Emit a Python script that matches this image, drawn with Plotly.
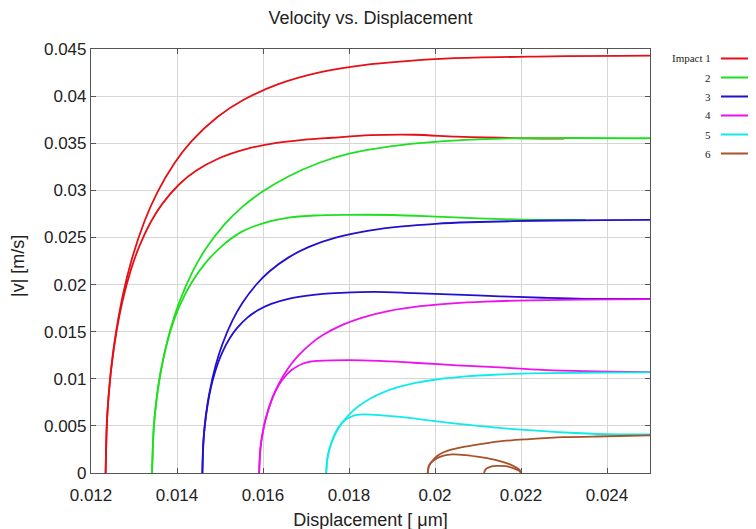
import plotly.graph_objects as go

# ---------------- data ----------------
# Impact 1 (red)
imp1_a_x = [0.01234, 0.01238, 0.01244, 0.01254, 0.01274, 0.01294, 0.01324, 0.01354, 0.01394, 0.01434,
            0.01494, 0.01554, 0.01634, 0.01734, 0.01834, 0.01934, 0.02034, 0.02234, 0.02434, 0.02500]
imp1_a_v = [0.0, 0.00623, 0.00979, 0.01367, 0.01886, 0.02255, 0.02667, 0.02976, 0.03288, 0.03522,
            0.03778, 0.03958, 0.04125, 0.04255, 0.04330, 0.04372, 0.04400, 0.04420, 0.04428, 0.04430]
imp1_b_x = [0.01234, 0.012366, 0.012406, 0.012471, 0.012603, 0.012734, 0.012931, 0.013128, 0.013390,
            0.013653, 0.014047, 0.014441, 0.014966, 0.015623, 0.016279, 0.016936, 0.01760, 0.01850,
            0.01950, 0.02050, 0.02150, 0.02250, 0.02300]
imp1_b_v = [0.0, 0.00505, 0.00793, 0.01108, 0.01529, 0.01828, 0.02161, 0.02411, 0.02664,
            0.02854, 0.03062, 0.03207, 0.03338, 0.03440, 0.03500, 0.03535, 0.03558, 0.03585,
            0.03590, 0.03570, 0.03558, 0.03550, 0.03550]

# Impact 2 (green)
imp2_a_x = [0.01342, 0.013462, 0.013525, 0.01363, 0.01384, 0.01405, 0.014365, 0.01468, 0.01510, 0.01552,
            0.01600, 0.01660, 0.01730, 0.01800, 0.01900, 0.02000, 0.02100, 0.02200, 0.02500]
imp2_a_v = [0.0, 0.00500, 0.00785, 0.01096, 0.01513, 0.01809, 0.02139, 0.02387, 0.02637, 0.02825,
            0.02990, 0.03150, 0.03290, 0.03390, 0.03470, 0.03515, 0.03540, 0.03553, 0.03553]
imp2_b_x = [0.01342, 0.013462, 0.013525, 0.01363, 0.01384, 0.01405, 0.01433, 0.01465, 0.01505, 0.01550,
            0.01600, 0.01660, 0.01720, 0.01800, 0.01900, 0.02000, 0.02100, 0.02200, 0.02300, 0.02350]
imp2_b_v = [0.0, 0.00500, 0.00785, 0.01096, 0.01500, 0.01762, 0.02013, 0.02222, 0.02411, 0.02559,
            0.02650, 0.02710, 0.02733, 0.02740, 0.02738, 0.02722, 0.02703, 0.02690, 0.02686, 0.02686]

# Impact 3 (blue)
imp3_a_x = [0.01459, 0.014621, 0.014668, 0.014745, 0.01490, 0.015055, 0.015288, 0.01552, 0.01583, 0.01614,
            0.016605, 0.01707, 0.01769, 0.018465, 0.01924, 0.020015, 0.02079, 0.02234, 0.02389, 0.02500]
imp3_a_v = [0.0, 0.00378, 0.00593, 0.00829, 0.01144, 0.01367, 0.01617, 0.01804, 0.01993, 0.02136,
            0.02291, 0.02400, 0.02498, 0.02573, 0.02618, 0.02645, 0.02661, 0.02677, 0.02683, 0.02686]
imp3_b_x = [0.01459, 0.014606, 0.01463, 0.01467, 0.01475, 0.01483, 0.01495, 0.01507, 0.01523, 0.01539,
            0.01563, 0.01587, 0.01619, 0.01659, 0.01699, 0.01739, 0.01779, 0.01859, 0.01950, 0.02050,
            0.02150, 0.02250, 0.02350, 0.02500]
imp3_b_v = [0.0, 0.00272, 0.00426, 0.00595, 0.00822, 0.00983, 0.01162, 0.01296, 0.01432, 0.01535,
            0.01646, 0.01724, 0.01795, 0.01849, 0.01881, 0.01901, 0.01912, 0.01923, 0.01910, 0.01893,
            0.01875, 0.01860, 0.01849, 0.01847]

# Impact 4 (magenta)
imp4_a_x = [0.01591, 0.01594, 0.015985, 0.01606, 0.01621, 0.01636, 0.016585, 0.01681, 0.01711, 0.01741,
            0.01786, 0.01831, 0.01891, 0.01966, 0.02041, 0.02116, 0.02191, 0.02341, 0.02500]
imp4_a_v = [0.0, 0.00260, 0.00408, 0.00570, 0.00786, 0.00940, 0.01112, 0.01241, 0.01371, 0.01469,
            0.01575, 0.01650, 0.01718, 0.01770, 0.01800, 0.01819, 0.01830, 0.01841, 0.01845]
imp4_b_x = [0.01591, 0.01594, 0.015985, 0.01606, 0.01621, 0.016326, 0.016442, 0.016558, 0.016674,
            0.01679, 0.016907, 0.017023, 0.017139, 0.017256, 0.01800, 0.01870, 0.01950, 0.02050,
            0.02150, 0.02250, 0.02350, 0.02500]
imp4_b_v = [0.0, 0.00260, 0.00408, 0.00570, 0.00786, 0.00899, 0.00984, 0.01048, 0.01096,
            0.01131, 0.01157, 0.01174, 0.01184, 0.01189, 0.01198, 0.01190, 0.01170, 0.01143,
            0.01120, 0.01095, 0.01080, 0.01070]

# Impact 5 (cyan)
imp5_a_x = [0.01747, 0.017496, 0.017535, 0.01760, 0.01773, 0.01786, 0.018055, 0.01825, 0.01851, 0.01877,
            0.01916, 0.01955, 0.02007, 0.02072, 0.02137, 0.02202, 0.02267, 0.02397, 0.02500]
imp5_a_v = [0.0, 0.00151, 0.00236, 0.00330, 0.00456, 0.00545, 0.00644, 0.00719, 0.00794, 0.00851,
            0.00913, 0.00956, 0.00995, 0.01025, 0.01043, 0.01054, 0.01060, 0.01066, 0.01069]
imp5_b_x = [0.01747, 0.017496, 0.017535, 0.01760, 0.017693, 0.017786, 0.017879, 0.017972, 0.018065,
            0.018158, 0.018251, 0.018344, 0.01870, 0.01930, 0.02000, 0.02100, 0.02200, 0.02300,
            0.02400, 0.02500]
imp5_b_v = [0.0, 0.00151, 0.00236, 0.00330, 0.00435, 0.00503, 0.00549, 0.00580, 0.00600,
            0.00613, 0.00620, 0.00622, 0.00615, 0.00590, 0.00550, 0.00500, 0.00460, 0.00430,
            0.00412, 0.00410]

# Impact 6 (brown)
imp6_a_x = [0.01983, 0.01985, 0.01989, 0.01996, 0.02005, 0.02020, 0.02040, 0.02070, 0.02110, 0.02160,
            0.02220, 0.02300, 0.02400, 0.02500]
imp6_a_v = [0.0, 0.00060, 0.00100, 0.00140, 0.00180, 0.00220, 0.00250, 0.00280, 0.00310, 0.00340,
            0.00360, 0.00380, 0.00390, 0.00400]
imp6_b_x = [0.01983, 0.01985, 0.01989, 0.01996, 0.02006, 0.02020, 0.02040, 0.02070, 0.02110, 0.02140,
            0.02170, 0.02188, 0.02197, 0.02200]
imp6_b_v = [0.0, 0.00060, 0.00100, 0.00130, 0.00160, 0.00185, 0.00197, 0.00190, 0.00165, 0.00140,
            0.00100, 0.00060, 0.00030, 0.0]
imp6_c_x = [0.02114, 0.02118, 0.02128, 0.02145, 0.02165, 0.02183, 0.02195, 0.02200]
imp6_c_v = [0.0, 0.00040, 0.00065, 0.00075, 0.00072, 0.00050, 0.00025, 0.0]

legend_labels = ["Impact 1", "2", "3", "4", "5", "6"]
colors = ["#e60f16", "#1ee01e", "#2010d0", "#ee10ee", "#10eaea", "#a8522a"]

x_ticks = [0.012, 0.014, 0.016, 0.018, 0.020, 0.022, 0.024]
x_tick_text = ["0.012", "0.014", "0.016", "0.018", "0.02", "0.022", "0.024"]
y_ticks = [0, 0.005, 0.010, 0.015, 0.020, 0.025, 0.030, 0.035, 0.040, 0.045]
y_tick_text = ["0", "0.005", "0.01", "0.015", "0.02", "0.025", "0.03", "0.035", "0.04", "0.045"]

series = [
    [(imp1_a_x, imp1_a_v), (imp1_b_x, imp1_b_v)],
    [(imp2_a_x, imp2_a_v), (imp2_b_x, imp2_b_v)],
    [(imp3_a_x, imp3_a_v), (imp3_b_x, imp3_b_v)],
    [(imp4_a_x, imp4_a_v), (imp4_b_x, imp4_b_v)],
    [(imp5_a_x, imp5_a_v), (imp5_b_x, imp5_b_v)],
    [(imp6_a_x, imp6_a_v), (imp6_b_x, imp6_b_v), (imp6_c_x, imp6_c_v)],
]

fig = go.Figure()
for label, color, branches in zip(legend_labels, colors, series):
    for bx, bv in branches:
        fig.add_trace(go.Scatter(
            x=bx, y=bv, mode="lines", name=label, legendgroup=label, showlegend=False,
            line=dict(color=color, width=1.8, shape="spline", smoothing=1.0),
        ))

# layout geometry (screen pixels of the reference; the page adds an 8px body offset)
OFF = 8
W, H = 756, 529
plot_left, plot_right, plot_top, plot_bottom = 91, 650, 49, 473
pw, ph = plot_right - plot_left, plot_bottom - plot_top

def px_x(p):
    return (p - plot_left) / pw

def px_y(p):
    return (plot_bottom - p) / ph

# custom legend (text left of the line sample, as in the reference)
for i, (label, color) in enumerate(zip(legend_labels, colors)):
    yy = px_y(58.5 + i * 19.0)
    fig.add_annotation(x=px_x(713), y=yy, xref="paper", yref="paper", text=label,
                       showarrow=False, xanchor="right", yanchor="middle",
                       font=dict(family="Liberation Serif", size=11, color="#222"))
    fig.add_shape(type="line", xref="paper", yref="paper",
                  x0=px_x(721), x1=px_x(770), y0=yy, y1=yy,
                  line=dict(color=color, width=1.8))

# y-axis title placed as in the reference
fig.add_annotation(x=px_x(18), y=px_y(266), xref="paper", yref="paper", text="|v| [m/s]",
                   textangle=-90, showarrow=False, xanchor="center", yanchor="middle",
                   font=dict(family="Liberation Sans", size=18, color="#222"))

axis_common = dict(
    showline=True, linecolor="#555", linewidth=1.2, mirror="ticks",
    ticks="inside", ticklen=5, tickcolor="#555", tickwidth=1,
    showgrid=True, gridcolor="#d6d6d6", gridwidth=1, zeroline=False,
    automargin=False,
    tickfont=dict(family="Liberation Sans", size=17, color="#222"),
)

fig.update_layout(
    width=W, height=H,
    margin=dict(l=plot_left - OFF, r=W - (plot_right - OFF), t=plot_top - OFF, b=H - (plot_bottom - OFF)),
    paper_bgcolor="white", plot_bgcolor="white",
    title=dict(text="Velocity vs. Displacement", x=0.5, xref="paper", xanchor="center",
               y=1 - (18 - OFF) / H, yanchor="middle", yref="container",
               font=dict(family="Liberation Sans", size=18, color="#222")),
    xaxis=dict(range=[0.012, 0.025], tickvals=x_ticks, ticktext=x_tick_text,
               ticklabelstandoff=6,
               title=dict(text="Displacement [ μm]", standoff=9,
                          font=dict(family="Liberation Sans", size=18, color="#222")),
               **axis_common),
    yaxis=dict(range=[0, 0.045], tickvals=y_ticks, ticktext=y_tick_text,
               **axis_common),
    showlegend=False,
)

fig.write_html("out.html")
